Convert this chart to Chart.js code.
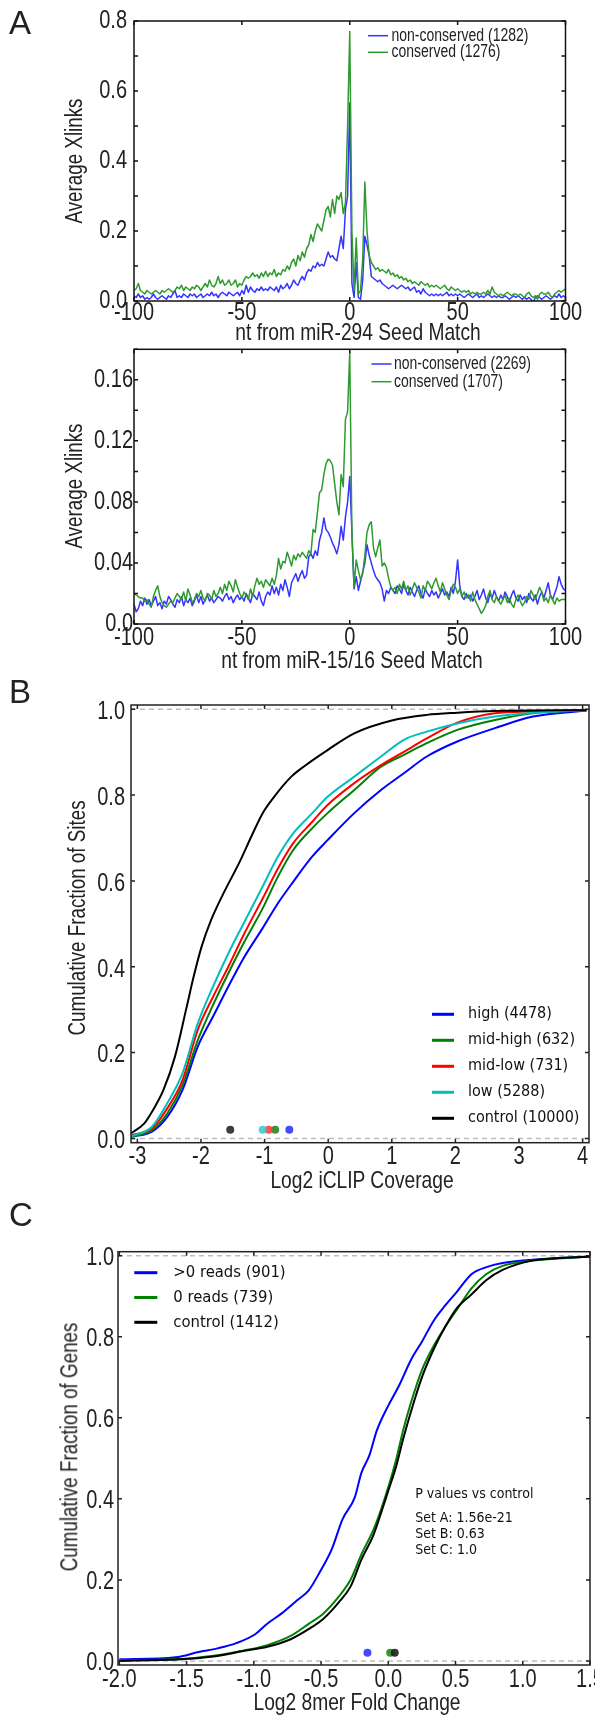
<!DOCTYPE html>
<html><head><meta charset="utf-8">
<script src="https://cdn.jsdelivr.net/npm/chart.js@4.4.1/dist/chart.umd.min.js"></script>
<style>
html,body{margin:0;padding:0;background:#fff;}
#page{position:relative;width:595px;height:1718px;overflow:hidden;background:#fff;}
.cv{position:absolute;left:0;width:595px;}
.cv canvas{display:block;}
.txt{position:absolute;white-space:nowrap;color:#222;line-height:1;
  transform:translate(-50%,-50%) scaleX(var(--sx,1));
  font-family:"Liberation Sans Narrow","Arial Narrow","Liberation Sans",sans-serif;font-size:24px;}
.rot{transform:translate(-50%,-50%) rotate(-90deg) scaleX(var(--sx,1));font-size:23.5px;}
.let{transform:translate(-50%,-50%);font-family:"Liberation Sans",Arial,sans-serif;font-size:33px;color:#222;}
</style></head><body>
<div id="page">
  <div class="cv" style="top:0;height:345px"><canvas id="cA1" width="595" height="345"></canvas></div>
  <div class="cv" style="top:345px;height:330px"><canvas id="cA2" width="595" height="330"></canvas></div>
  <div class="cv" style="top:675px;height:500px"><canvas id="cB" width="595" height="500"></canvas></div>
  <div class="cv" style="top:1175px;height:543px"><canvas id="cC" width="595" height="543"></canvas></div>

  <div class="txt let" style="left:20px;top:22px">A</div>
  <div class="txt let" style="left:20px;top:691px">B</div>
  <div class="txt let" style="left:21px;top:1214px">C</div>

  <div class="txt" style="left:358px;top:332px">nt from miR-294 Seed Match</div>
  <div class="txt rot" style="left:74.5px;top:161px">Average Xlinks</div>
  <div class="txt" style="left:352px;top:660px">nt from miR-15/16 Seed Match</div>
  <div class="txt rot" style="left:74.5px;top:486px">Average Xlinks</div>
  <div class="txt" style="left:362px;top:1180px">Log2 iCLIP Coverage</div>
  <div class="txt rot" style="left:77.5px;top:918px">Cumulative Fraction of Sites</div>
  <div class="txt" style="left:357px;top:1702px">Log2 8mer Fold Change</div>
  <div class="txt rot" style="left:70px;top:1447px">Cumulative Fraction of Genes</div>
</div>
<script>
// ---------------- DATA ----------------
// Panel A: nucleotide positions relative to the seed match
const ntPositions = [];
for (let n = -100; n <= 100; n++) ntPositions.push(n);

const a1Labels = ['non-conserved (1282)', 'conserved (1276)'];
const a1NonConserved = [
 0.015,0.01,0.02,0.01,0.015,0.005,0.01,0.005,0.01,0.02,
 0.01,0.005,0.01,0.015,0.01,0.005,0.015,0.01,0.02,0.03,
 0.01,0.015,0.01,0.02,0.015,0.01,0.02,0.015,0.02,0.01,
 0.015,0.02,0.01,0.015,0.02,0.015,0.025,0.015,0.02,0.01,
 0.02,0.025,0.02,0.015,0.025,0.02,0.015,0.02,0.025,0.015,
 0.03,0.02,0.045,0.025,0.04,0.03,0.025,0.035,0.03,0.04,
 0.03,0.035,0.03,0.04,0.035,0.03,0.04,0.025,0.045,0.035,
 0.04,0.05,0.035,0.045,0.06,0.05,0.045,0.06,0.07,0.06,
 0.08,0.09,0.085,0.1,0.095,0.11,0.1,0.105,0.1,0.12,
 0.14,0.125,0.13,0.12,0.115,0.15,0.185,0.15,0.26,0.3,
 0.566,
 0.05,0.01,0.11,0.01,0.005,0.06,0.185,0.16,0.13,0.07,
 0.065,0.06,0.055,0.06,0.05,0.045,0.04,0.035,0.04,0.045,
 0.04,0.035,0.04,0.045,0.04,0.035,0.04,0.03,0.035,0.04,
 0.025,0.03,0.02,0.035,0.025,0.02,0.015,0.02,0.015,0.02,
 0.015,0.02,0.015,0.02,0.025,0.015,0.02,0.015,0.02,0.015,
 0.02,0.015,0.01,0.015,0.02,0.015,0.01,0.015,0.02,0.01,
 0.015,0.01,0.015,0.02,0.015,0.01,0.015,0.01,0.015,0.01,
 0.01,0.015,0.01,0.005,0.01,0.015,0.01,0.015,0.01,0.005,
 0.01,0.005,0.01,0.005,-0.005,0.01,0.015,0.01,0.005,0.01,
 0.015,0.01,0.005,0.01,0.015,0.01,0.02,0.01,0.015,0.01
];
const a1Conserved = [
 0.03,0.035,0.05,0.03,0.025,0.02,0.03,0.025,0.02,0.025,
 0.03,0.025,0.02,0.03,0.025,0.03,0.035,0.03,0.025,0.03,
 0.04,0.035,0.045,0.03,0.04,0.035,0.03,0.04,0.035,0.045,
 0.04,0.03,0.04,0.05,0.04,0.06,0.045,0.04,0.05,0.07,
 0.05,0.06,0.045,0.05,0.06,0.045,0.05,0.06,0.04,0.05,
 0.045,0.06,0.07,0.065,0.07,0.08,0.07,0.075,0.065,0.08,
 0.07,0.085,0.07,0.08,0.075,0.09,0.07,0.08,0.075,0.09,
 0.085,0.1,0.09,0.11,0.12,0.1,0.13,0.115,0.14,0.125,
 0.15,0.16,0.19,0.17,0.2,0.22,0.21,0.2,0.23,0.26,
 0.27,0.24,0.29,0.25,0.3,0.29,0.31,0.25,0.28,0.5,
 0.77,
 0.2,0.03,0.18,0.02,0.03,0.12,0.34,0.2,0.13,0.11,
 0.1,0.09,0.095,0.085,0.09,0.085,0.08,0.09,0.075,0.08,
 0.07,0.075,0.065,0.07,0.06,0.065,0.055,0.06,0.05,0.055,
 0.05,0.045,0.055,0.05,0.045,0.05,0.04,0.045,0.04,0.045,
 0.04,0.035,0.04,0.045,0.035,0.03,0.04,0.035,0.03,0.035,
 0.03,0.025,0.03,0.025,0.03,0.02,0.025,0.02,0.025,0.02,
 0.02,0.025,0.02,0.03,0.02,0.04,0.025,0.02,0.015,0.02,
 0.015,0.02,0.025,0.02,0.015,0.02,0.02,0.015,0.02,0.015,
 0.01,0.02,0.025,0.015,0.01,0.015,0.005,0.02,0.025,0.02,
 0.02,0.025,0.015,0.01,0.02,0.025,0.03,0.025,0.03,0.035
];

const a2Labels = ['non-conserved (2269)', 'conserved (1707)'];
const a2NonConserved = [
 0.013,0.008,0.01,0.015,0.012,0.017,0.013,0.016,0.012,0.015,
 0.018,0.012,0.014,0.01,0.015,0.013,0.018,0.016,0.013,0.011,
 0.016,0.014,0.018,0.012,0.016,0.014,0.017,0.012,0.015,0.019,
 0.014,0.018,0.013,0.016,0.019,0.015,0.017,0.014,0.016,0.018,
 0.017,0.015,0.018,0.02,0.016,0.018,0.014,0.017,0.019,0.016,
 0.018,0.015,0.02,0.017,0.014,0.02,0.018,0.016,0.021,0.015,
 0.012,0.018,0.021,0.019,0.025,0.02,0.024,0.019,0.026,0.022,
 0.029,0.024,0.018,0.027,0.03,0.033,0.028,0.032,0.035,0.03,
 0.032,0.044,0.046,0.043,0.048,0.045,0.055,0.06,0.0695,0.062,
 0.06,0.057,0.053,0.05,0.046,0.052,0.064,0.055,0.07,0.08,
 0.0966,
 0.06,0.023,0.031,0.022,0.028,0.034,0.04,0.052,0.045,0.04,
 0.035,0.031,0.029,0.027,0.023,0.015,0.022,0.02,0.024,0.022,
 0.02,0.025,0.023,0.02,0.026,0.022,0.019,0.024,0.021,0.018,
 0.022,0.025,0.02,0.017,0.023,0.02,0.018,0.022,0.019,0.021,
 0.017,0.02,0.023,0.019,0.021,0.018,0.024,0.02,0.028,0.042,
 0.025,0.018,0.016,0.02,0.017,0.019,0.015,0.018,0.022,0.016,
 0.019,0.023,0.017,0.014,0.02,0.017,0.022,0.018,0.015,0.019,
 0.016,0.021,0.018,0.014,0.019,0.022,0.017,0.015,0.019,0.016,
 0.018,0.014,0.02,0.017,0.015,0.019,0.013,0.018,0.021,0.017,
 0.022,0.027,0.019,0.016,0.02,0.024,0.031,0.026,0.023,0.022
];
const a2Conserved = [
 0.02,0.019,0.018,0.017,0.017,0.015,0.016,0.013,0.011,0.018,
 0.022,0.025,0.018,0.014,0.012,0.011,0.013,0.015,0.014,0.017,
 0.02,0.018,0.016,0.021,0.015,0.023,0.019,0.014,0.016,0.02,
 0.018,0.022,0.017,0.015,0.02,0.019,0.016,0.022,0.018,0.02,
 0.024,0.02,0.026,0.022,0.028,0.025,0.021,0.029,0.024,0.02,
 0.017,0.021,0.019,0.016,0.023,0.018,0.025,0.03,0.026,0.028,
 0.024,0.029,0.027,0.025,0.03,0.026,0.032,0.043,0.036,0.041,
 0.04,0.047,0.043,0.038,0.045,0.042,0.046,0.044,0.047,0.045,
 0.043,0.048,0.046,0.062,0.06,0.073,0.086,0.088,0.098,0.105,
 0.108,0.107,0.104,0.092,0.08,0.0715,0.098,0.09,0.134,0.139,
 0.178,
 0.06,0.0245,0.042,0.035,0.029,0.033,0.045,0.06,0.065,0.067,
 0.05,0.044,0.05,0.055,0.038,0.04,0.037,0.03,0.0245,0.022,
 0.024,0.02,0.026,0.023,0.028,0.022,0.025,0.019,0.023,0.027,
 0.024,0.021,0.017,0.025,0.022,0.028,0.026,0.023,0.027,0.03,
 0.025,0.021,0.027,0.023,0.019,0.016,0.022,0.026,0.024,0.02,
 0.023,0.018,0.021,0.017,0.019,0.015,0.021,0.016,0.013,0.01,
 0.007,0.009,0.012,0.018,0.022,0.016,0.014,0.018,0.015,0.013,
 0.016,0.019,0.014,0.017,0.013,0.011,0.016,0.019,0.015,0.012,
 0.014,0.018,0.016,0.022,0.019,0.016,0.02,0.024,0.021,0.015,
 0.017,0.014,0.019,0.016,0.013,0.017,0.015,0.016,0.016,0.016
];

const aXTicks = [-100, -50, 0, 50, 100];
const aXTickLabels = ['-100', '-50', '0', '50', '100'];
const a1YTicks = [0, 0.1, 0.2, 0.3, 0.4, 0.5, 0.6, 0.7, 0.8];
const a1YTickLabels = ['0.0', '', '0.2', '', '0.4', '', '0.6', '', '0.8'];
const a2YTicks = [0, 0.02, 0.04, 0.06, 0.08, 0.10, 0.12, 0.14, 0.16, 0.18];
const a2YTickLabels = ['0.0', '', '0.04', '', '0.08', '', '0.12', '', '0.16', ''];

// Panel B: cumulative distributions of log2 iCLIP coverage
const bLabels = ['high (4478)', 'mid-high (632)', 'mid-low (731)', 'low (5288)', 'control (10000)'];
const bCoverage = [-3.1, -2.77, -2.53, -2.29, -2.05, -1.81, -1.57, -1.33, -1.03, -0.79, -0.55, -0.25, -0.01, 0.41, 0.83, 1.19, 1.55, 2.03, 2.62, 3.22, 4.06];
const bHigh    = [0.004, 0.016, 0.05, 0.113, 0.214, 0.284, 0.354, 0.42, 0.49, 0.548, 0.598, 0.657, 0.695, 0.758, 0.812, 0.851, 0.89, 0.925, 0.956, 0.983, 0.997];
const bMidHigh = [0.004, 0.019, 0.058, 0.124, 0.229, 0.311, 0.385, 0.455, 0.536, 0.61, 0.672, 0.723, 0.758, 0.812, 0.866, 0.894, 0.921, 0.952, 0.975, 0.991, 0.998];
const bMidLow  = [0.008, 0.023, 0.07, 0.136, 0.253, 0.33, 0.4, 0.474, 0.559, 0.629, 0.688, 0.738, 0.777, 0.828, 0.87, 0.901, 0.932, 0.969, 0.991, 0.995, 0.998];
const bLow     = [0.005, 0.027, 0.082, 0.152, 0.268, 0.354, 0.431, 0.501, 0.587, 0.657, 0.711, 0.758, 0.796, 0.843, 0.89, 0.929, 0.948, 0.967, 0.983, 0.992, 0.998];
const bControlCoverage = [-3.1, -2.89, -2.77, -2.59, -2.41, -2.23, -2.11, -1.99, -1.84, -1.66, -1.39, -1.21, -1.03, -0.85, -0.58, -0.37, -0.01, 0.41, 1.0, 1.55, 2.03, 2.62, 4.06];
const bControl = [0.012, 0.035, 0.062, 0.113, 0.19, 0.303, 0.38, 0.447, 0.509, 0.567, 0.645, 0.703, 0.758, 0.796, 0.843, 0.868, 0.905, 0.944, 0.974, 0.987, 0.992, 0.996, 0.998];
const bMedians = [-0.611, -0.833, -0.935, -1.03, -1.54];   // high, mid-high, mid-low, low, control
const bMedianLevel = 0.02;
const bXTicks = [-3, -2, -1, 0, 1, 2, 3, 4];
const bXTickLabels = ['-3', '-2', '-1', '0', '1', '2', '3', '4'];
const fracTicks = [0, 0.2, 0.4, 0.6, 0.8, 1.0];
const fracTickLabels = ['0.0', '0.2', '0.4', '0.6', '0.8', '1.0'];

// Panel C: cumulative distributions of log2 8mer fold change
const cLabels = ['>0 reads (901)', '0 reads (739)', 'control (1412)'];
const cReadsFC = [-2.0, -1.58, -1.41, -1.27, -1.13, -0.99, -0.9, -0.79, -0.68, -0.59, -0.51, -0.42, -0.34, -0.25, -0.2, -0.14, -0.085, 0, 0.085, 0.17, 0.25, 0.34, 0.42, 0.51, 0.62, 0.73, 0.85, 1.07, 1.5];
const cReads = [0.004, 0.009, 0.022, 0.031, 0.044, 0.066, 0.092, 0.118, 0.149, 0.175, 0.219, 0.276, 0.35, 0.403, 0.464, 0.508, 0.569, 0.63, 0.683, 0.744, 0.788, 0.841, 0.876, 0.911, 0.955, 0.972, 0.982, 0.99, 0.998];
const cOtherFC = [-2.0, -1.58, -1.3, -1.07, -0.9, -0.73, -0.59, -0.48, -0.37, -0.28, -0.2, -0.11, -0.06, 0, 0.06, 0.11, 0.17, 0.25, 0.34, 0.42, 0.51, 0.62, 0.73, 0.85, 1.07, 1.5];
const cNoReads = [0.002, 0.004, 0.013, 0.026, 0.039, 0.061, 0.092, 0.118, 0.158, 0.201, 0.263, 0.324, 0.368, 0.429, 0.499, 0.569, 0.639, 0.718, 0.779, 0.823, 0.867, 0.92, 0.955, 0.975, 0.988, 0.998];
const cControl = [0.0, 0.0035, 0.011, 0.025, 0.035, 0.053, 0.079, 0.105, 0.144, 0.184, 0.25, 0.311, 0.359, 0.42, 0.482, 0.547, 0.617, 0.7, 0.771, 0.823, 0.871, 0.905, 0.94, 0.965, 0.988, 0.998];
const cMedians = [-0.155, 0.014, 0.048];   // >0 reads, 0 reads, control
const cMedianLevel = 0.02;
const cXTicks = [-2.0, -1.5, -1.0, -0.5, 0.0, 0.5, 1.0, 1.5];
const cXTickLabels = ['-2.0', '-1.5', '-1.0', '-0.5', '0.0', '0.5', '1.0', '1.5'];
const cNotes = ['P values vs control', 'Set A: 1.56e-21', 'Set B: 0.63', 'Set C: 1.0'];
const cNoteLevels = [0.41, 0.352, 0.313, 0.273];
const cNoteX = 0.2;

// ---------------- RENDERING ----------------
function hasFont(name) {
  const c = document.createElement('canvas').getContext('2d');
  c.font = '24px "' + name + '", monospace'; const w1 = c.measureText('0.8 Seed Match').width;
  c.font = '24px monospace'; const w2 = c.measureText('0.8 Seed Match').width;
  return Math.abs(w1 - w2) > 0.5;
}
const NARROW_OK = hasFont('Liberation Sans Narrow');
const SQUEEZE = NARROW_OK ? 1 : 0.8;     // horizontal condensing of the Helvetica-style labels
const NARROW = NARROW_OK ? '"Liberation Sans Narrow",sans-serif' : '"Liberation Sans",Arial,sans-serif';
const DEJAVU = '"DejaVu Sans Condensed","DejaVu Sans",sans-serif';
document.documentElement.style.setProperty('--sx', SQUEEZE);
const toXY = (xs, ys) => ys.map((v, i) => ({x: xs[i], y: v}));
const TICK_SIZE = 25;

const decoPlugin = {
  id: 'deco',
  beforeInit(chart) {
    if (SQUEEZE === 1) return;
    const ctx = chart.ctx; const orig = ctx.fillText.bind(ctx);
    ctx.fillText = function (text, x, y, maxWidth) {
      if (String(ctx.font).indexOf('Liberation') < 0) return orig(text, x, y, maxWidth);
      ctx.save(); ctx.translate(x, y); ctx.scale(SQUEEZE, 1); orig(text, 0, 0); ctx.restore();
    };
  },
  beforeDatasetsDraw(chart, args, o) {
    if (!o.dashY) return;
    const {ctx, chartArea: a} = chart; const y = chart.scales.y;
    ctx.save(); ctx.strokeStyle = '#bdbdbd'; ctx.lineWidth = 1.5; ctx.setLineDash([5, 4]);
    o.dashY.forEach(v => { const py = y.getPixelForValue(v); ctx.beginPath(); ctx.moveTo(a.left, py); ctx.lineTo(a.right, py); ctx.stroke(); });
    ctx.restore();
  },
  afterDatasetsDraw(chart, args, o) {
    const {ctx, chartArea: a} = chart; const x = chart.scales.x, y = chart.scales.y;
    ctx.save();
    ctx.setLineDash([]);
    ctx.strokeStyle = o.color; ctx.lineWidth = o.width;
    ctx.strokeRect(a.left, a.top, a.right - a.left, a.bottom - a.top);
    const L = o.tick;
    ctx.beginPath();
    x.ticks.forEach(t => { const px = x.getPixelForValue(t.value);
      ctx.moveTo(px, a.bottom); ctx.lineTo(px, a.bottom - L); ctx.moveTo(px, a.top); ctx.lineTo(px, a.top + L); });
    y.ticks.forEach(t => { const py = y.getPixelForValue(t.value);
      ctx.moveTo(a.left, py); ctx.lineTo(a.left + L, py); ctx.moveTo(a.right, py); ctx.lineTo(a.right - L, py); });
    ctx.stroke();
    if (o.legend) {
      const lg = o.legend; let row = 0;
      ctx.font = lg.font; ctx.textBaseline = 'middle'; ctx.textAlign = 'left';
      chart.data.datasets.forEach(ds => {
        if (!ds.label) return;
        const yy = lg.y + row * lg.dy;
        ctx.strokeStyle = ds.borderColor; ctx.lineWidth = lg.lw;
        ctx.beginPath(); ctx.moveTo(lg.x, yy); ctx.lineTo(lg.x + lg.len, yy); ctx.stroke();
        ctx.fillStyle = lg.color; ctx.fillText(ds.label, lg.textX, yy);
        row++;
      });
    }
    if (o.notes) {
      ctx.font = o.notes.font; ctx.fillStyle = '#111'; ctx.textBaseline = 'middle'; ctx.textAlign = 'left';
      o.notes.texts.forEach((t, i) => ctx.fillText(t, x.getPixelForValue(o.notes.x), y.getPixelForValue(o.notes.levels[i])));
    }
    ctx.restore();
  }
};

function xAxis(min, max, ticks, labels, xh, pad) {
  return {
    type: 'linear', min, max,
    grid: {display: false, drawTicks: false}, border: {display: false},
    ticks: {autoSkip: false, maxRotation: 0, minRotation: 0, padding: pad, color: '#222',
      font: {family: NARROW, size: TICK_SIZE, lineHeight: 1}, callback: (v, i) => labels[i]},
    afterBuildTicks: s => { s.ticks = ticks.map(v => ({value: v})); },
    afterFit: s => { s.height = xh; s.paddingLeft = 0; s.paddingRight = 0; }
  };
}
function yAxis(min, max, ticks, labels, yw, pad, lblOff) {
  return {
    type: 'linear', min, max,
    grid: {display: false, drawTicks: false}, border: {display: false},
    ticks: {autoSkip: false, padding: pad, color: '#222', labelOffset: lblOff || 0,
      font: {family: NARROW, size: TICK_SIZE, lineHeight: 1}, callback: (v, i) => labels[i]},
    afterBuildTicks: s => { s.ticks = ticks.map(v => ({value: v})); },
    afterFit: s => { s.width = yw; s.paddingTop = 0; s.paddingBottom = 0; }
  };
}
function lineDs(label, data, color, width, order, smooth) {
  return {type: 'line', label, data, borderColor: color, backgroundColor: color, borderWidth: width,
    pointRadius: 0, fill: false, tension: 0, order, borderJoinStyle: 'round',
    cubicInterpolationMode: smooth ? 'monotone' : 'default'};
}
function meanDs(data, colors) {
  return {type: 'scatter', label: '', data, pointRadius: 4, pointBorderWidth: 0,
    pointBackgroundColor: colors, borderColor: 'rgba(0,0,0,0)', order: 0};
}
function make(id, datasets, scales, area, deco) {
  const cv = document.getElementById(id);
  return new Chart(cv, {
    data: {datasets},
    options: {
      responsive: false, animation: false, events: [],
      layout: {padding: {left: 0, top: area.top, right: 595 - area.right, bottom: 0}},
      scales,
      plugins: {legend: {display: false}, tooltip: {enabled: false}, deco}
    },
    plugins: [decoPlugin]
  });
}

const A_BLUE = '#3434ff', A_GREEN = '#2f9a2f';

make('cA1', [
  lineDs(a1Labels[0], toXY(ntPositions, a1NonConserved), A_BLUE, 1.5, 2),
  lineDs(a1Labels[1], toXY(ntPositions, a1Conserved), A_GREEN, 1.5, 1)
], {
  x: xAxis(-100, 100, aXTicks, aXTickLabels, 345 - 301, 0),
  y: yAxis(0, 0.8, a1YTicks, a1YTickLabels, 134, 7, 0)
}, {top: 21, right: 565.5}, {
  color: '#111', width: 1.5, tick: 4,
  legend: {x: 368, y: 35.7, dy: 16.6, len: 20, lw: 1.5, textX: 391.5, color: '#222', font: '17.5px ' + NARROW}
});

make('cA2', [
  lineDs(a2Labels[0], toXY(ntPositions, a2NonConserved), A_BLUE, 1.5, 2),
  lineDs(a2Labels[1], toXY(ntPositions, a2Conserved), A_GREEN, 1.5, 1)
], {
  x: xAxis(-100, 100, aXTicks, aXTickLabels, 330 - 279, 2),
  y: yAxis(0, 0.18, a2YTicks, a2YTickLabels, 134, 1, 0)
}, {top: 4.3, right: 565.5}, {
  color: '#111', width: 1.5, tick: 4,
  legend: {x: 371.5, y: 19, dy: 17.7, len: 20, lw: 1.5, textX: 394, color: '#222', font: '17.5px ' + NARROW}
});

const B_COLORS = ['#0000ff', '#008000', '#ff0000', '#00bfbf', '#000000'];
const B_DOTS = ['rgba(40,40,255,0.85)', 'rgba(20,130,20,0.85)', 'rgba(255,50,50,0.85)', 'rgba(50,200,200,0.85)', 'rgba(40,40,40,0.9)'];
make('cB', [
  lineDs(bLabels[0], toXY(bCoverage, bHigh), B_COLORS[0], 2, 5, true),
  lineDs(bLabels[1], toXY(bCoverage, bMidHigh), B_COLORS[1], 2, 4, true),
  lineDs(bLabels[2], toXY(bCoverage, bMidLow), B_COLORS[2], 2, 3, true),
  lineDs(bLabels[3], toXY(bCoverage, bLow), B_COLORS[3], 2, 2, true),
  lineDs(bLabels[4], toXY(bControlCoverage, bControl), B_COLORS[4], 2, 1, true),
  meanDs(bMedians.map(m => ({x: m, y: bMedianLevel})), B_DOTS)
], {
  x: xAxis(-3.1, 4.1, bXTicks, bXTickLabels, 500 - 467.7, 2),
  y: yAxis(-0.01, 1.01, fracTicks, fracTickLabels, 131, 6, 3)
}, {top: 30, right: 589}, {
  color: '#222', width: 1.5, tick: 4, dashY: [0, 1],
  legend: {x: 432, y: 339.3, dy: 26, len: 22, lw: 3, textX: 468, color: '#111', font: '16px ' + DEJAVU}
});

const C_COLORS = ['#0000ff', '#008000', '#000000'];
const C_DOTS = ['rgba(40,40,255,0.85)', 'rgba(20,130,20,0.85)', 'rgba(30,30,30,0.9)'];
make('cC', [
  lineDs(cLabels[0], toXY(cReadsFC, cReads), C_COLORS[0], 2, 3, true),
  lineDs(cLabels[1], toXY(cOtherFC, cNoReads), C_COLORS[1], 2, 2, true),
  lineDs(cLabels[2], toXY(cOtherFC, cControl), C_COLORS[2], 2, 1, true),
  meanDs(cMedians.map(m => ({x: m, y: cMedianLevel})), C_DOTS)
], {
  x: xAxis(-2.01, 1.5, cXTicks, cXTickLabels, 543 - 490, 3),
  y: yAxis(-0.01, 1.01, fracTicks, fracTickLabels, 118, 4, 2)
}, {top: 76.7, right: 590}, {
  color: '#222', width: 1.5, tick: 4, dashY: [0, 1],
  legend: {x: 134.3, y: 97.7, dy: 24.8, len: 23, lw: 3, textX: 173.3, color: '#111', font: '16.5px ' + DEJAVU},
  notes: {x: cNoteX, levels: cNoteLevels, texts: cNotes, font: '14px ' + DEJAVU}
});
</script>
</body></html>
